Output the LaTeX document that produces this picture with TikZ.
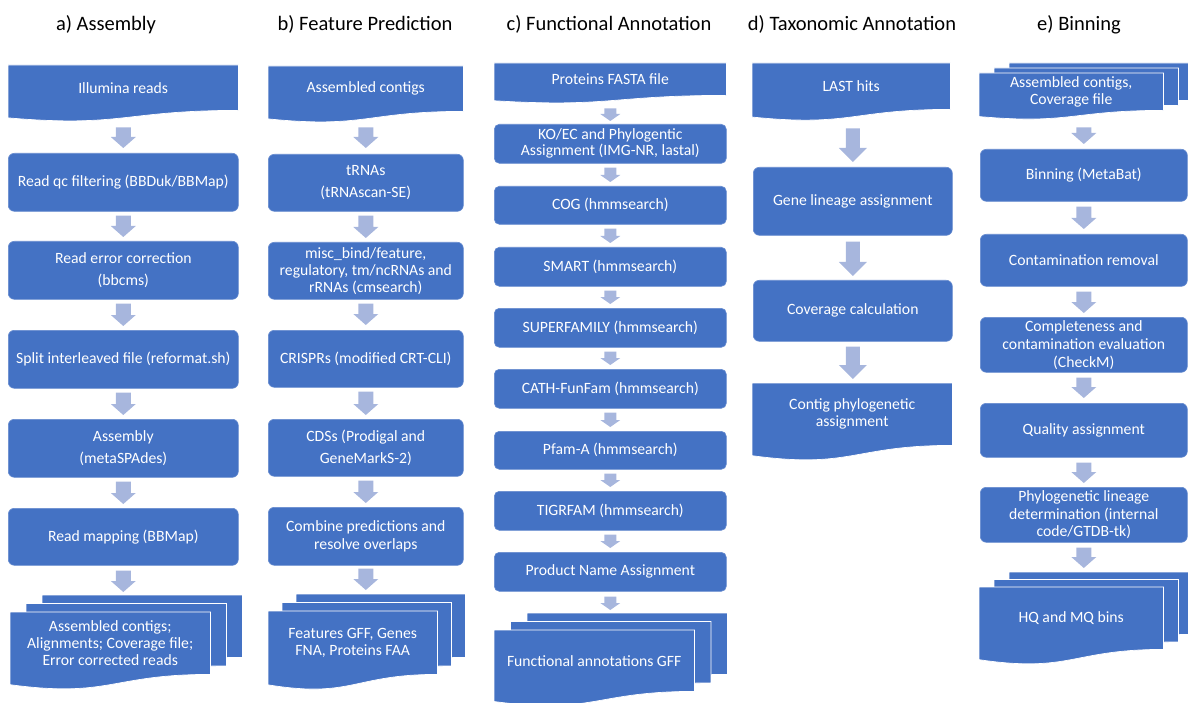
\documentclass[tikz,border=0pt]{standalone}
\usepackage{fontspec}
\setmainfont{Carlito}
\usetikzlibrary{backgrounds,calc}
\definecolor{boxblue}{HTML}{4472C4}
\definecolor{arrowfill}{HTML}{A7B6DD}
\tikzset{
  rbox/.style={rectangle, rounded corners=6pt, fill=boxblue, draw=white!18!boxblue,
    line width=0.6pt, text=white, font=\fontsize{15.7}{17}\selectfont,
    align=center, anchor=north west, inner sep=1pt},
  sbox/.style={rbox, rounded corners=5pt},
  dbox/.style={rectangle, text=white, font=\fontsize{15.7}{17}\selectfont,
    align=center, anchor=north west, inner sep=0pt},
  docstyle/.style={fill=boxblue, draw=white, line width=0.7pt},
  title/.style={font=\fontsize{20.5}{24}\selectfont, anchor=base, text=black},
}
% document shape under node #1, shifted by #2 (right) and #3 (up)
\newcommand\docshape[3]{%
  \filldraw[docstyle] let \p1=(#1.north west), \p2=(#1.south east), \n1={(\y1-\y2)/0.802} in
   (\x1+#2,\y1+#3) -- (\x2+#2,\y1+#3) -- (\x2+#2,\y2+#3)
   .. controls ({(\x1+\x2)/2+#2},\y2+#3) and ({(\x1+\x2)/2+#2},{\y2+#3-0.306*\n1})
   .. (\x1+#2,{\y2+#3-0.132*\n1}) -- cycle;}
% block arrow from #1 to #2 at the x of node #3, gaps #4 (top) #5 (bottom)
\newcommand\barrow[5]{%
  \fill[arrowfill] let \p1=(#1.south), \p2=(#2.north), \p3=(#3.center) in
   (\x3-\shw,\y1-#4) -- (\x3+\shw,\y1-#4) -- (\x3+\shw,\y2+#5+\hl) -- (\x3+\hhw,\y2+#5+\hl)
   -- (\x3,\y2+#5) -- (\x3-\hhw,\y2+#5+\hl) -- (\x3-\shw,\y2+#5+\hl) -- cycle;}
\begin{document}
\begin{tikzpicture}[x=1pt,y=-1pt]
\useasboundingbox (0,0) rectangle (1188,703);
% titles
\node[title] (ta) at (106,31) {a) Assembly};
\node[title] (tb) at (365,31) {b) Feature Prediction};
\node[title] (tc) at (609,31) {c) Functional Annotation};
\node[title] (td) at (852,31) {d) Taxonomic Annotation};
\node[title] (te) at (1079,31) {e) Binning};

% column a
\node[dbox, minimum width=230pt, minimum height=45pt] (a1) at (8,65) {Illumina reads};
\node[rbox, minimum width=230pt, minimum height=58pt] (a2) at (8,153) {Read qc filtering (BBDuk/BBMap)};
\node[rbox, minimum width=230pt, minimum height=58pt] (a3) at (8,241) {Read error correction\\[5pt](bbcms)};
\node[rbox, minimum width=230pt, minimum height=58pt] (a4) at (8,330) {Split interleaved file (reformat.sh)};
\node[rbox, minimum width=230pt, minimum height=58pt] (a5) at (8,419) {Assembly\\[5pt](metaSPAdes)};
\node[rbox, minimum width=230pt, minimum height=57pt] (a6) at (8,508) {Read mapping (BBMap)};
\node[dbox, minimum width=200pt, minimum height=62pt] (a7) at (10,612) {Assembled contigs;\\Alignments; Coverage file;\\Error corrected reads};

% column b
\node[dbox, minimum width=195pt, minimum height=45pt] (b1) at (268,66) {Assembled contigs};
\node[rbox, minimum width=195pt, minimum height=57pt] (b2) at (268,154) {tRNAs\\[5pt](tRNAscan-SE)};
\node[rbox, minimum width=195pt, minimum height=57pt] (b3) at (268,242) {misc\_bind/feature,\\regulatory, tm/ncRNAs and\\rRNAs (cmsearch)};
\node[rbox, minimum width=195pt, minimum height=57pt] (b4) at (268,330) {CRISPRs (modified CRT-CLI)};
\node[rbox, minimum width=195pt, minimum height=57pt] (b5) at (268,419) {CDSs (Prodigal and\\[5pt]GeneMarkS-2)};
\node[rbox, minimum width=195pt, minimum height=58pt] (b6) at (268,507) {Combine predictions and\\[1pt]resolve overlaps};
\node[dbox, minimum width=169pt, minimum height=63pt] (b7) at (268,611) {Features GFF, Genes\\FNA, Proteins FAA};

% column c
\node[dbox, minimum width=232pt, minimum height=32pt] (c1) at (494,63) {Proteins FASTA file};
\node[sbox, minimum width=232pt, minimum height=39pt] (c2) at (494,124) {KO/EC and Phylogentic\\[-1pt]Assignment (IMG-NR, lastal)};
\node[sbox, minimum width=232pt, minimum height=38pt] (c3) at (494,186) {COG (hmmsearch)};
\node[sbox, minimum width=232pt, minimum height=39pt] (c4) at (494,247) {SMART (hmmsearch)};
\node[sbox, minimum width=232pt, minimum height=39pt] (c5) at (494,308) {SUPERFAMILY (hmmsearch)};
\node[sbox, minimum width=232pt, minimum height=39pt] (c6) at (494,369) {CATH-FunFam (hmmsearch)};
\node[sbox, minimum width=232pt, minimum height=38pt] (c7) at (494,431) {Pfam-A (hmmsearch)};
\node[sbox, minimum width=232pt, minimum height=39pt] (c8) at (494,491) {TIGRFAM (hmmsearch)};
\node[sbox, minimum width=232pt, minimum height=39pt] (c9) at (494,552) {Product Name Assignment};
\node[dbox, minimum width=200pt, minimum height=61pt] (c10) at (494,630) {Functional annotations GFF};

% column d
\node[dbox, minimum width=198pt, minimum height=46pt] (d1) at (752,63) {LAST hits};
\node[rbox, minimum width=199pt, minimum height=68pt] (d2) at (753,167) {Gene lineage assignment};
\node[rbox, minimum width=199pt, minimum height=61pt] (d3) at (753,280) {Coverage calculation};
\node[dbox, minimum width=200pt, minimum height=62pt] (d4) at (752,383) {Contig phylogenetic\\assignment};

% column e
\node[dbox, minimum width=184pt, minimum height=37pt] (e1) at (979,73) {Assembled contigs,\\Coverage file};
\node[rbox, minimum width=207pt, minimum height=52pt] (e2) at (980,149) {Binning (MetaBat)};
\node[rbox, minimum width=207pt, minimum height=52pt] (e3) at (980,234) {Contamination removal};
\node[rbox, minimum width=207pt, minimum height=55pt] (e4) at (980,317) {Completeness and\\[1pt]contamination evaluation\\[1pt](CheckM)};
\node[rbox, minimum width=207pt, minimum height=54pt] (e5) at (980,403) {Quality assignment};
\node[rbox, minimum width=207pt, minimum height=55pt] (e6) at (980,487) {Phylogenetic lineage\\[0.5pt]determination (internal\\[0.5pt]code/GTDB-tk)};
\node[dbox, minimum width=184pt, minimum height=62pt] (e7) at (979,587) {HQ and MQ bins};

% document shapes
\begin{pgfonlayer}{background}
\clip (0,0) rectangle (1188,703);
\docshape{a1}{0pt}{0pt}
\docshape{b1}{0pt}{0pt}
\docshape{c1}{0pt}{0pt}
\docshape{d1}{0pt}{0pt}
\docshape{d4}{0pt}{0pt}
\docshape{a7}{32pt}{17pt}\docshape{a7}{16pt}{8.5pt}\docshape{a7}{0pt}{0pt}
\docshape{b7}{28pt}{17pt}\docshape{b7}{14pt}{8.5pt}\docshape{b7}{0pt}{0pt}
\docshape{c10}{33pt}{17pt}\docshape{c10}{16.5pt}{8.5pt}\docshape{c10}{0pt}{0pt}
\docshape{e1}{30pt}{10pt}\docshape{e1}{15pt}{5pt}\docshape{e1}{0pt}{0pt}
\docshape{e7}{30pt}{15pt}\docshape{e7}{15pt}{7.5pt}\docshape{e7}{0pt}{0pt}
\end{pgfonlayer}

% arrows column a
\def\shw{7.5pt}\def\hhw{12.5pt}\def\hl{11pt}
\barrow{a1}{a2}{a2}{17pt}{5pt}
\barrow{a2}{a3}{a2}{4pt}{4pt}
\barrow{a3}{a4}{a3}{4pt}{4pt}
\barrow{a4}{a5}{a4}{4pt}{4pt}
\barrow{a5}{a6}{a5}{4pt}{4pt}
\barrow{a6}{a7}{a6}{5pt}{20pt}
% column b
\barrow{b1}{b2}{b2}{16pt}{6pt}
\barrow{b2}{b3}{b2}{4pt}{4pt}
\barrow{b3}{b4}{b3}{4pt}{5pt}
\barrow{b4}{b5}{b4}{4pt}{4pt}
\barrow{b5}{b6}{b5}{4pt}{4pt}
\barrow{b6}{b7}{b6}{3pt}{21pt}
% column e
\barrow{e1}{e2}{e2}{17pt}{5pt}
\barrow{e2}{e3}{e2}{5pt}{5pt}
\barrow{e3}{e4}{e3}{5pt}{4pt}
\barrow{e4}{e5}{e4}{5pt}{5pt}
\barrow{e5}{e6}{e5}{5pt}{4pt}
\barrow{e6}{e7}{e6}{5pt}{19pt}
% column c
\def\shw{6pt}\def\hhw{10pt}\def\hl{7pt}
\barrow{c1}{c2}{c2}{13pt}{3pt}
\barrow{c2}{c3}{c2}{4pt}{4pt}
\barrow{c3}{c4}{c3}{4pt}{4pt}
\barrow{c4}{c5}{c4}{4pt}{4pt}
\barrow{c5}{c6}{c5}{4pt}{4pt}
\barrow{c6}{c7}{c6}{4pt}{4pt}
\barrow{c7}{c8}{c7}{4pt}{4pt}
\barrow{c8}{c9}{c8}{4pt}{4pt}
\barrow{c9}{c10}{c9}{5pt}{20pt}
% column d
\def\shw{7pt}\def\hhw{14pt}\def\hl{14pt}
\barrow{d1}{d2}{d2}{19pt}{5pt}
\barrow{d2}{d3}{d2}{6pt}{4pt}
\barrow{d3}{d4}{d3}{5pt}{4pt}
\end{tikzpicture}
\end{document}
